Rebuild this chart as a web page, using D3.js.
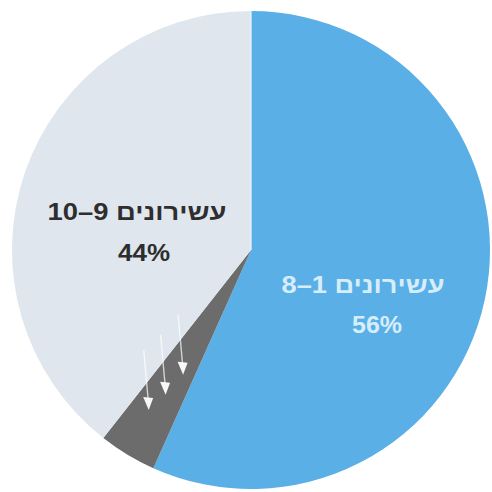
<!DOCTYPE html>
<html><head><meta charset="utf-8">
<script src="https://cdn.jsdelivr.net/npm/d3@7"></script>
<style>html,body{margin:0;padding:0;background:#fff;}svg{display:block;}</style>
</head><body>
<svg id="chart" width="492" height="492"></svg>
<script>
// Data
const categories = ["עשירונים 1–8", "מעבר", "עשירונים 9–10"];
const values = [56.7, 3.9, 39.4];
const labelPercents = ["56%", null, "44%"];
const colors = ["#5aafe7", "#6c6c6c", "#dfe6ee"];
const textColors = ["#d6eefb", null, "#2e2e2e"];
const arrowCount = [0, 1, 2];

const W = 492, H = 492, cx = 251, cy = 250, R = 239;
const svg = d3.select("#chart");
const g = svg.append("g").attr("transform", `translate(${cx},${cy})`);

const pie = d3.pie().sort(null).value(d => d)(values);
const arc = d3.arc().innerRadius(0).outerRadius(R);

g.selectAll("path.slice").data(pie).join("path")
  .attr("class", "slice")
  .attr("d", arc)
  .attr("fill", (d, i) => colors[i]);

// thin light separator on top edge
g.append("line").attr("x1", 0).attr("y1", 0).attr("x2", 0).attr("y2", -R)
  .attr("stroke", "#eef4fa").attr("stroke-width", 1.2);

// labels (layout: offsets from pie centre, widths of the printed text)
const labelLayout = [
  {x1: 112, y1: 43, w1: 163, x2: 126, y2: 83, w2: 50},
  null,
  {x1: -114, y1: -30, w1: 179, x2: -107, y2: 11, w2: 52}
];
pie.forEach((d, i) => {
  const L = labelLayout[i];
  if (!L) return;
  const mk = (x, y, w, s) => g.append("text").attr("text-anchor", "middle")
    .attr("x", x).attr("y", y)
    .attr("font-family", "'Liberation Sans', Arial, sans-serif")
    .attr("font-weight", "bold").attr("font-size", 23)
    .attr("textLength", w).attr("lengthAdjust", "spacingAndGlyphs")
    .attr("fill", textColors[i]).text(s);
  mk(L.x1, L.y1, L.w1, categories[i]);
  mk(L.x2, L.y2, L.w2, labelPercents[i]);
});

// arrows in the dark slice
const dark = pie[1];
const mid = (dark.startAngle + dark.endAngle) / 2;
const tipR = [142, 168, 190];
arrowCount.forEach(k => {
  const a = mid - 0.045 + k * 0.035;
  const tx = tipR[k] * Math.sin(a), ty = -tipR[k] * Math.cos(a);
  const len = 60;
  const sx = tx - 5, sy = ty - len;
  g.append("line").attr("x1", sx).attr("y1", sy).attr("x2", tx - 0.5).attr("y2", ty - 10)
    .attr("stroke", "#ffffff").attr("stroke-opacity", 0.7).attr("stroke-width", 1.4);
  g.append("path")
    .attr("d", `M${tx - 5.5},${ty - 13} L${tx + 4.5},${ty - 12} L${tx},${ty} Z`)
    .attr("fill", "#ffffff").attr("fill-opacity", 0.95);
});
</script>
</body></html>
